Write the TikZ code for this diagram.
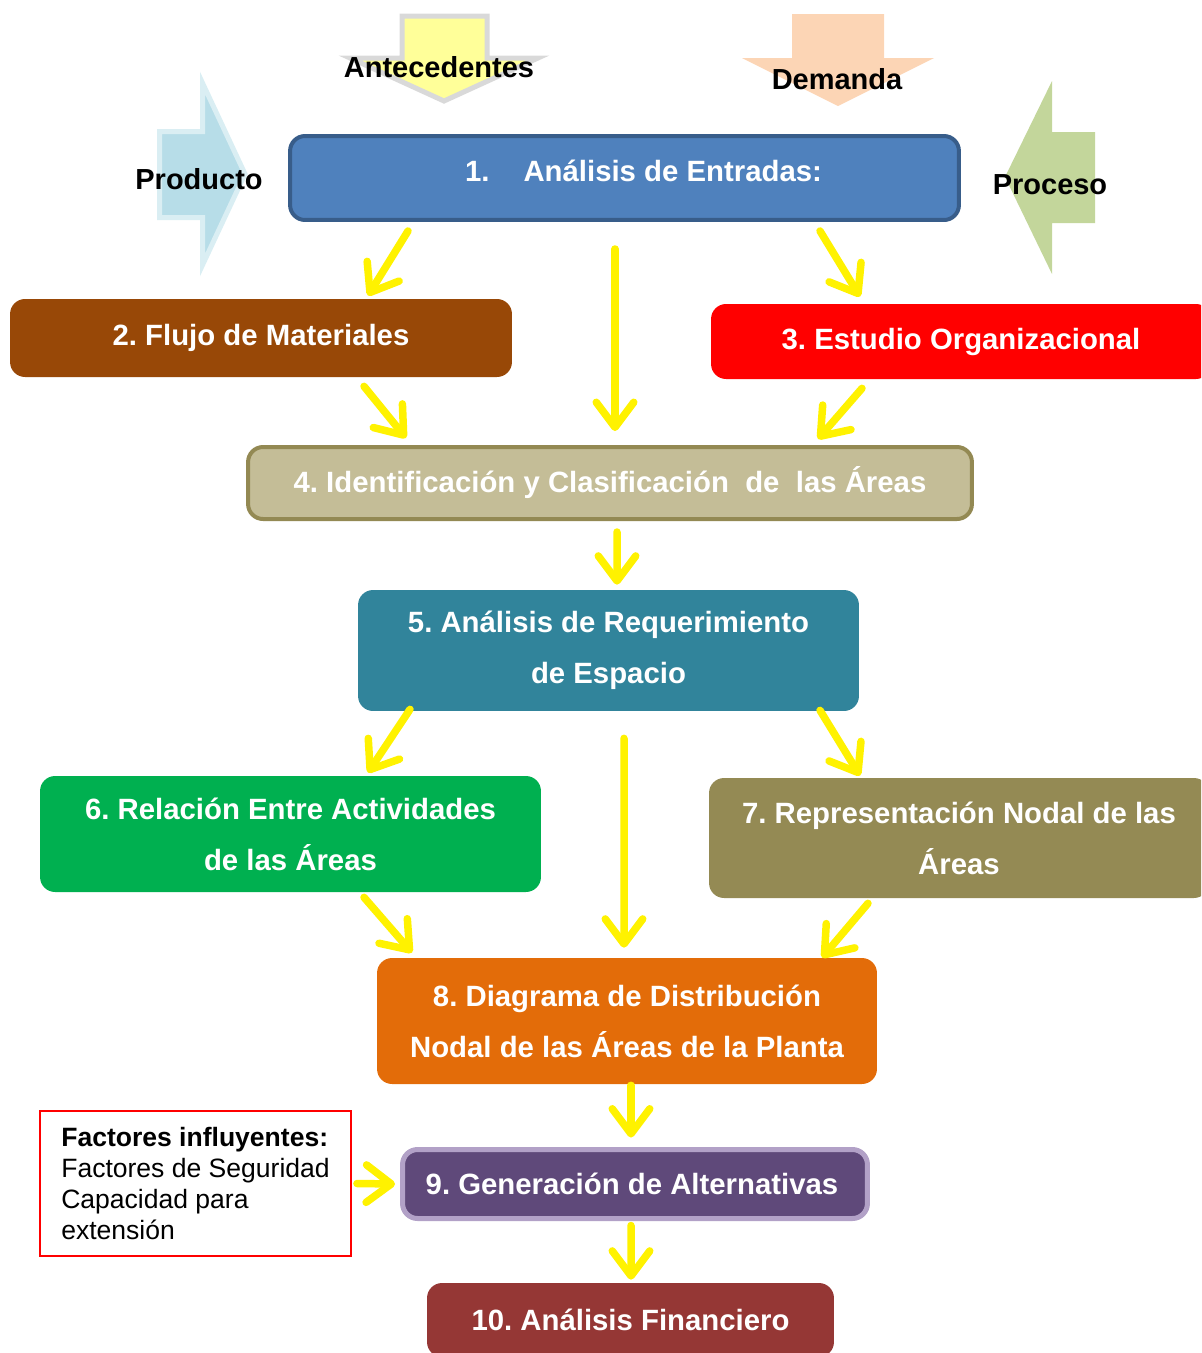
\documentclass[tikz,border=0pt]{standalone}
\usepackage{fontspec}
\setmainfont{Liberation Sans}
\usepackage{tikz}
\usetikzlibrary{arrows.meta}
\frenchspacing

\definecolor{entrada}{HTML}{4F81BD}
\definecolor{entradaborde}{HTML}{385D8A}
\definecolor{flujo}{HTML}{984807}
\definecolor{identif}{HTML}{C4BD97}
\definecolor{identifborde}{HTML}{938953}
\definecolor{espacio}{HTML}{31849B}
\definecolor{relacion}{HTML}{00B050}
\definecolor{nodal}{HTML}{948A54}
\definecolor{diagrama}{HTML}{E36C09}
\definecolor{alternat}{HTML}{5F497A}
\definecolor{alternatborde}{HTML}{B2A1C7}
\definecolor{financ}{HTML}{953735}
\definecolor{antec}{HTML}{FFFF99}
\definecolor{demanda}{HTML}{FCD5B5}
\definecolor{producto}{HTML}{B7DDE8}
\definecolor{productoborde}{HTML}{DAEEF3}
\definecolor{proceso}{HTML}{C3D69B}

\begin{document}
\begin{tikzpicture}[x=0.02cm,y=-0.02cm,
  stage/.style={rounded corners=0.3cm, text=white, align=center, inner sep=0pt,
    font=\fontsize{16.7}{29}\selectfont\bfseries},
  flow/.style={draw=yellow, line width=0.15cm, line cap=round,
    -{Straight Barb[length=0.5cm,width=0.75cm,round]}},
  tag/.style={font=\fontsize{16.5}{20}\selectfont\bfseries}]
\useasboundingbox (0,0) rectangle (1201,1353);
\clip (0,0) rectangle (1201,1353);

% entradas externas
\filldraw[fill=antec, draw=black!15, line width=0.1cm]
  (402,16) -- (487,16) -- (487,58) -- (538,58) -- (444,101) -- (350,58) -- (402,58) -- cycle;
\fill[demanda] (792,14) -- (884,14) -- (884,58) -- (934,58) -- (838,106) -- (742,58) -- (792,58) -- cycle;
\filldraw[fill=producto, draw=productoborde, line width=0.1cm]
  (159.5,131.5) -- (202.5,131.5) -- (202.5,83) -- (245,174) -- (202.5,265) -- (202.5,217.5) -- (159.5,217.5) -- cycle;
\fill[proceso] (1095,132) -- (1052,132) -- (1052,81) -- (1005,177) -- (1052,274) -- (1052,223) -- (1095,223) -- cycle;

\node[tag] (antecedentes) at (439,67) {Antecedentes};
\node[tag] (demandalbl) at (837,79) {Demanda};
\node[tag] (productolbl) at (199,179) {Producto};
\node[tag] (procesolbl) at (1050,185) {Proceso};

% etapas
\node[stage, fill=entrada, draw=entradaborde, line width=0.08cm,
  minimum width=13.38cm, minimum height=1.68cm] (b1) at (624.5,178)
  {\raisebox{0.28cm}{\hspace*{0.76cm}1.\hspace{0.68cm}Análisis de Entradas:}};
\node[stage, fill=flujo, minimum width=10.04cm, minimum height=1.56cm] (b2) at (261,338)
  {2. Flujo de Materiales};
\node[stage, fill=red, minimum width=10cm, minimum height=1.5cm] (b3) at (961,341.5)
  {3. Estudio Organizacional};
\node[stage, fill=identif, draw=identifborde, line width=0.08cm,
  minimum width=14.48cm, minimum height=1.44cm] (b4) at (610,483)
  {4. Identificación y Clasificación \ de \ las Áreas};
\node[stage, fill=espacio, minimum width=10.02cm, minimum height=2.42cm] (b5) at (608.5,650.5)
  {5. Análisis de Requerimiento\\de Espacio};
\node[stage, fill=relacion, minimum width=10.02cm, minimum height=2.32cm] (b6) at (290.5,834)
  {6. Relación Entre Actividades\\de las Áreas};
\node[stage, fill=nodal, minimum width=10cm, minimum height=2.4cm] (b7) at (959,838)
  {7. Representación Nodal de las\\Áreas};
\node[stage, fill=diagrama, minimum width=10cm, minimum height=2.52cm] (b8) at (627,1021)
  {8. Diagrama de Distribución\\Nodal de las Áreas de la Planta};
\node[stage, fill=alternat, draw=alternatborde, line width=0.1cm,
  minimum width=9.3cm, minimum height=1.38cm] (b9) at (635,1184)
  {\hspace*{-0.12cm}9. Generación de Alternativas};
\node[stage, fill=financ, minimum width=8.14cm, minimum height=1.48cm] (b10) at (630.5,1320)
  {10. Análisis Financiero};

\node[draw=red, line width=0.04cm, minimum width=6.22cm, minimum height=2.9cm,
  align=left, inner sep=0pt, font=\fontsize{15.1}{17.6}\selectfont] (factores) at (195.5,1183.5)
  {\textbf{Factores influyentes:}\\Factores de Seguridad\\Capacidad para\\extensión};

% flechas
\draw[flow] ([shift={(-216.5,9)}]b1.south) -- ([shift={(107,-3)}]b2.north);
\draw[flow] ([shift={(-9.5,27)}]b1.south) -- ([shift={(5,-14)}]b4.north);
\draw[flow] ([shift={(195.5,9)}]b1.south) -- ([shift={(-101,-7)}]b3.north);
\draw[flow] ([shift={(103,9)}]b2.south) -- ([shift={(-204,-7)}]b4.north);
\draw[flow] ([shift={(-99,9)}]b3.south) -- ([shift={(208,-6)}]b4.north);
\draw[flow] ([shift={(7,11)}]b4.south) -- ([shift={(8.5,-5)}]b5.north);
\draw[flow] ([shift={(-198.5,-2)}]b5.south) -- ([shift={(77.5,-3)}]b6.north);
\draw[flow] ([shift={(15.5,27)}]b5.south) -- ([shift={(-3,-10)}]b8.north);
\draw[flow] ([shift={(211.5,-1)}]b5.south) -- ([shift={(-99,-2)}]b7.north);
\draw[flow] ([shift={(73.5,5)}]b6.south) -- ([shift={(-215,-5)}]b8.north);
\draw[flow] ([shift={(-91,5)}]b7.south) -- ([shift={(195,0)}]b8.north);
\draw[flow] ([shift={(4,1)}]b8.south) -- ([shift={(-4,-9.5)}]b9.north);
\draw[flow] ([shift={(5,0)}]factores.east) -- ([shift={(-5,0)}]b9.west);
\draw[flow] ([shift={(-4,4.5)}]b9.south) -- ([shift={(0.5,-3)}]b10.north);
\end{tikzpicture}
\end{document}
